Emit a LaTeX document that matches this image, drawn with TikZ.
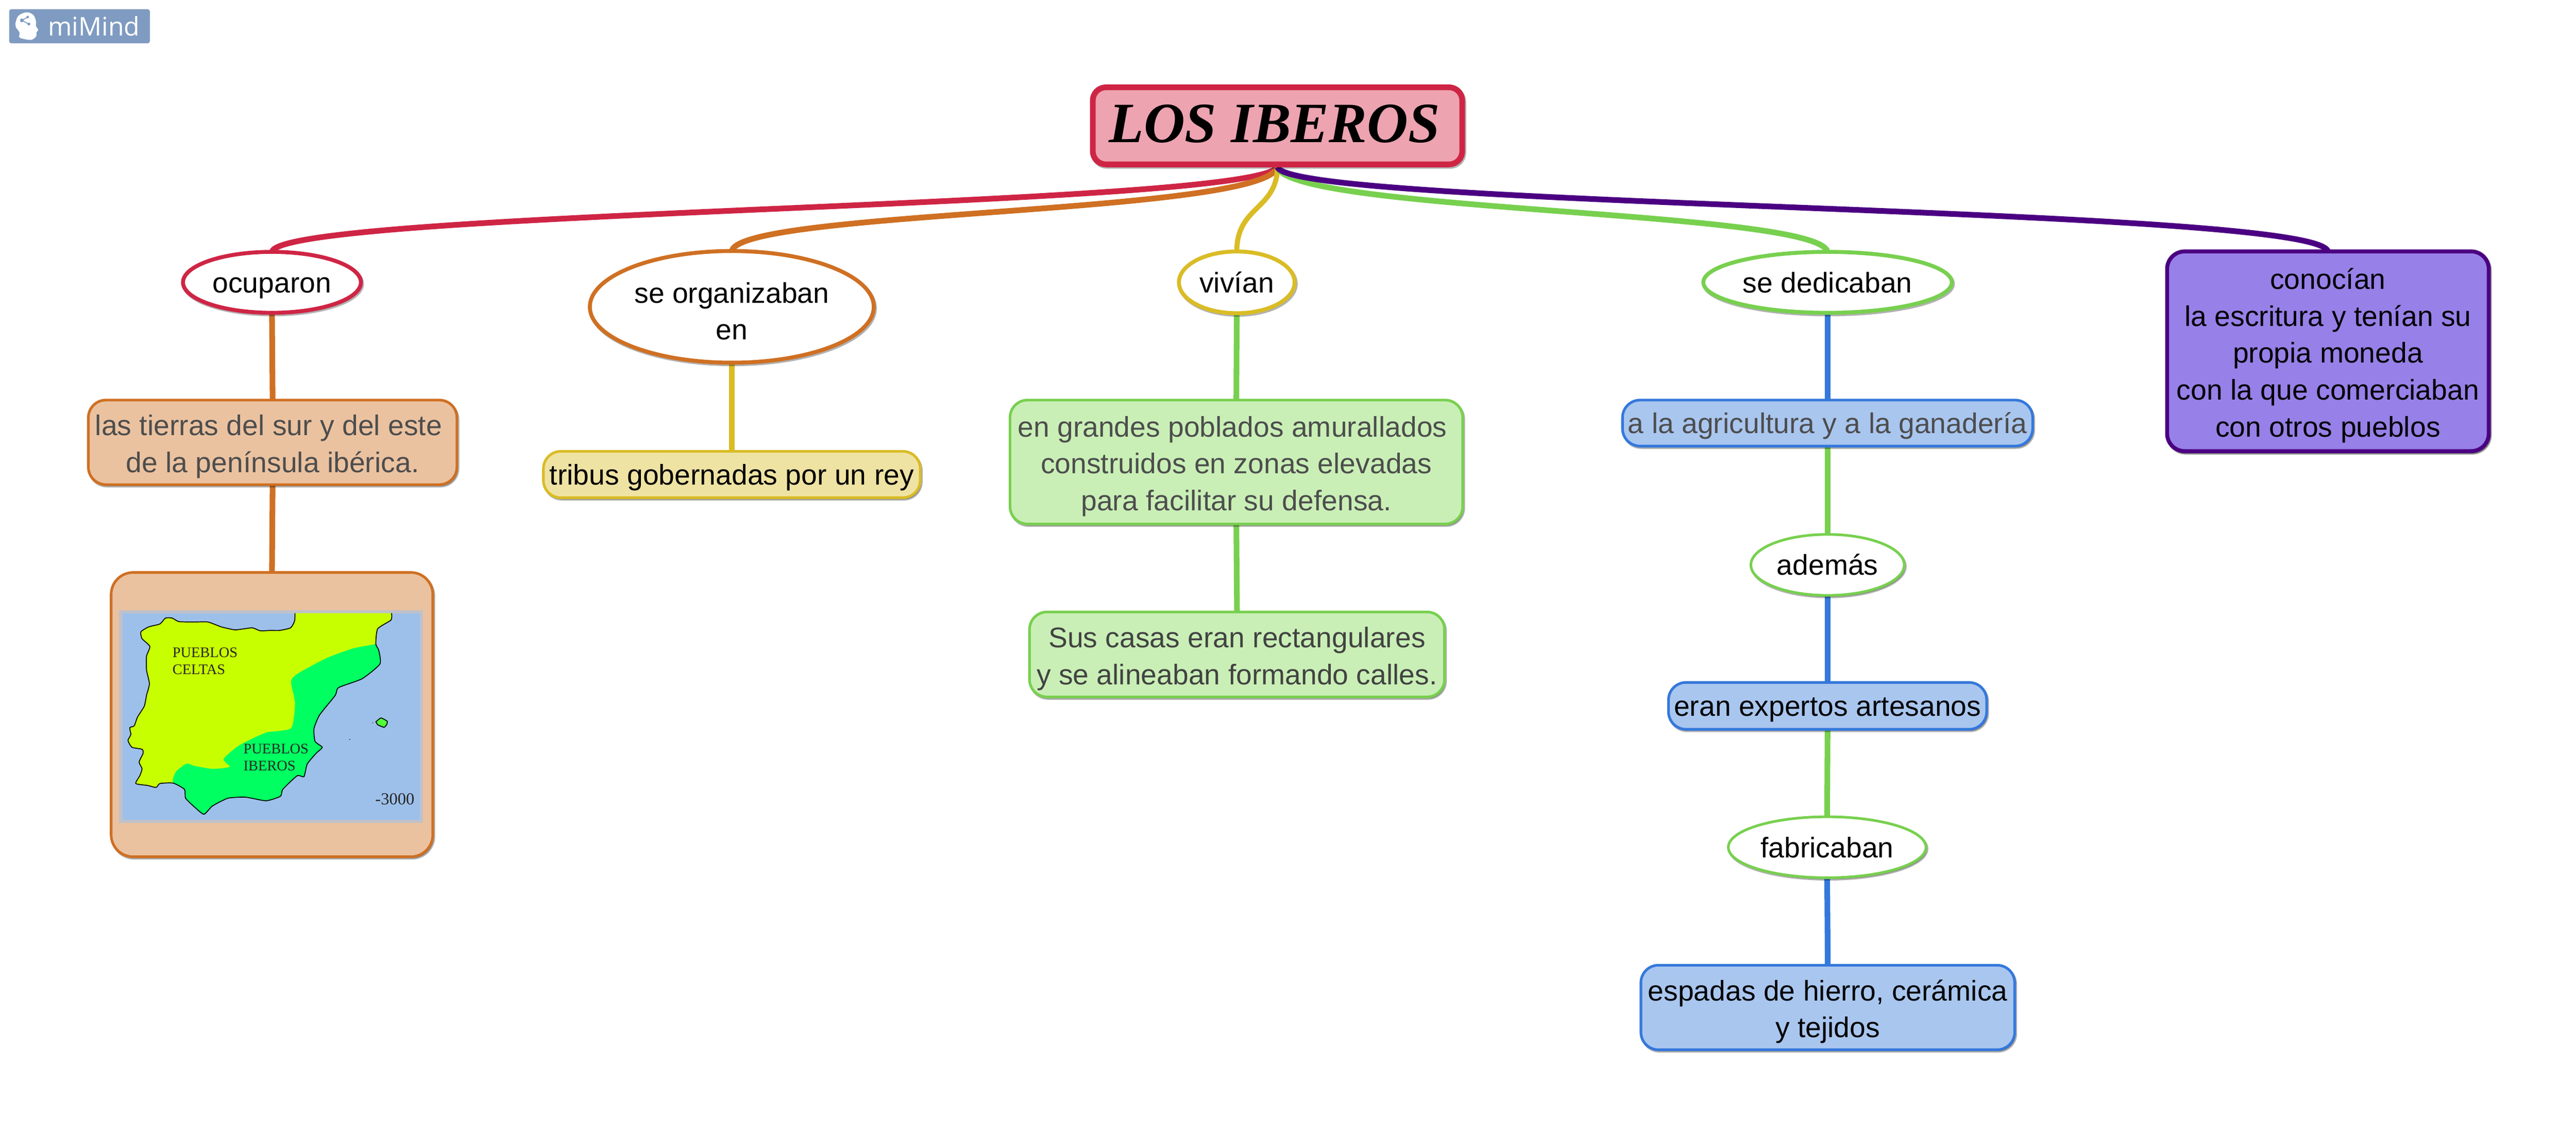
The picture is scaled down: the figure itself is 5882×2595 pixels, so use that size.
\documentclass[tikz,border=0pt]{standalone}
\usepackage{fontspec}
\setmainfont{Liberation Sans}
\newfontfamily\mapfont{Liberation Serif}
\newfontfamily\logofont{Open Sans}
\usetikzlibrary{shapes.geometric,shadows,backgrounds}
\definecolor{cred}{HTML}{CF2545}
\definecolor{cpink}{HTML}{EDA3B0}
\definecolor{corange}{HTML}{CF7023}
\definecolor{fillorange}{HTML}{EBC2A0}
\definecolor{cyellow}{HTML}{DABC25}
\definecolor{fillyellow}{HTML}{EFE3A3}
\definecolor{cgreen}{HTML}{78D04F}
\definecolor{fillgreen}{HTML}{C9EFB6}
\definecolor{cblue}{HTML}{3478DB}
\definecolor{fillblue}{HTML}{A9C6EF}
\definecolor{cpurple}{HTML}{4B0082}
\definecolor{fillpurple}{HTML}{9780E8}
\definecolor{greytext}{HTML}{4D4D4D}
\definecolor{logoblue}{HTML}{7F9BC1}
\definecolor{seablue}{HTML}{9DC0EA}
\definecolor{landyellow}{HTML}{C8FF00}
\definecolor{landgreen}{HTML}{00FF60}
\newcommand{\tsp}{\hspace*{.278em}}
\newcommand{\ft}{\rule{0pt}{19pt}}
\tikzset{
  softshadow/.style={drop shadow={shadow xshift=.025cm,shadow yshift=-.035cm,opacity=.3,draw=black,fill=black,line width=#1}},
  txt/.style={font=\fontsize{18.5}{24}\selectfont,align=center,inner sep=0pt,outer sep=0pt},
  oneline/.style={execute at begin node={\rule[-7.4pt]{0pt}{28pt}},execute at end node={\rule[-7.4pt]{0pt}{24pt}}},
  oval/.style={ellipse,txt,draw=#1,fill=white,line width=.09cm,softshadow=.09cm},
  thinoval/.style={ellipse,txt,draw=#1,fill=white,line width=.06cm,softshadow=.06cm},
  boxn/.style 2 args={rectangle,txt,rounded corners=.4cm,draw=#1,fill=#2,line width=.06cm,softshadow=.06cm},
  link/.style={line width=.13cm,draw=#1},
  sized/.style n args={4}{minimum width=#1cm,minimum height=#2cm,at={(#3,#4)}},
  maplabel/.style={font=\mapfont\fontsize{9.5}{11}\selectfont,align=left,anchor=base west,inner sep=0pt,text=black!85}
}
\begin{document}
\begin{tikzpicture}[x=.01cm,y=-.01cm]
\useasboundingbox (0,0) rectangle (5882,2595);

% logo
\node[rectangle,rounded corners=.05cm,fill=logoblue,minimum width=3.21cm,minimum height=.78cm,inner sep=0pt] (logo) at (181.5,60) {};
\node[inner sep=0pt,anchor=base west,text=white,font=\logofont\fontsize{16.7}{18}\selectfont] (logotext) at (109,81.5) {miMind};
\begin{scope}[x=.00333cm,y=-.00333cm]
  \fill[white] plot[smooth,tension=.6] coordinates {(105,165) (125,110) (180,85) (228,102) (248,150) (246,178) (262,205) (250,222) (250,245) (235,263) (205,274) (135,258) (135,225) (110,190)} -- cycle;
  \draw[logoblue,line width=.02cm] (190,117) -- (150,140) -- (198,165);
  \fill[logoblue] (150,140) circle[radius=13] (190,117) circle[radius=9] (198,165) circle[radius=10];
\end{scope}

% root
\node[rectangle,rounded corners=.3cm,draw=cred,fill=cpink,line width=.13cm,minimum width=8.43cm,minimum height=1.76cm,inner sep=0pt,softshadow=.13cm] (root) at (2917,287.5) {};
\node[inner sep=0pt,font=\mapfont\bfseries\itshape\fontsize{37}{40}\selectfont] (roottext) at (2910,283) {LOS IBEROS};

% first level
\node[oval=cred,oneline,sized={4.06}{1.38}{621}{645}] (oc) {ocuparon};
\node[oval=corange,sized={6.48}{2.55}{1671}{701}] (org) {\ft se organizaban\\en};
\node[oval=cyellow,oneline,sized={2.64}{1.41}{2824}{645}] (viv) {vivían};
\node[oval=cgreen,oneline,sized={5.67}{1.39}{4173}{645}] (ded) {se dedicaban};
\node[boxn={cpurple}{fillpurple},line width=.09cm,softshadow=.09cm,sized={7.34}{4.56}{5315.5}{802.5}] (con) {\ft conocían\\la escritura y tenían su\\propia moneda\\con la que comerciaban\\con otros pueblos};

% orange column
\node[boxn={corange}{fillorange},text=greytext,sized={8.41}{1.93}{622.5}{1010.5}] (tierras) {\ft las tierras del sur y del este\tsp\\de la península ibérica.};
\node[boxn={corange}{fillorange},rounded corners=.5cm,sized={7.34}{6.49}{621}{1632.5}] (mapbox) {};

% yellow column
\node[boxn={cyellow}{fillyellow},oneline,sized={8.60}{1.06}{1671}{1084}] (tribus) {tribus gobernadas por un rey};

% green column
\node[boxn={cgreen}{fillgreen},text=greytext,sized={10.33}{2.83}{2823}{1055.5}] (pob) {\ft en grandes poblados amurallados\tsp\\construidos en zonas elevadas\tsp\\para facilitar su defensa.};
\node[boxn={cgreen}{fillgreen},text=greytext!85!black,sized={9.47}{1.94}{2824.5}{1495}] (casas) {\ft Sus casas eran rectangulares\\y se alineaban formando calles.};

% blue column
\node[boxn={cblue}{fillblue},oneline,text=greytext,sized={9.36}{1.05}{4173}{966.5}] (agri) {a la agricultura y a la ganadería};
\node[thinoval=cgreen,oneline,sized={3.50}{1.37}{4173}{1290.5}] (ade) {además};
\node[boxn={cblue}{fillblue},oneline,sized={7.26}{1.07}{4173}{1612.5}] (art) {eran expertos artesanos};
\node[thinoval=cgreen,oneline,sized={4.51}{1.37}{4172}{1935.5}] (fab) {fabricaban};
\node[boxn={cblue}{fillblue},sized={8.53}{1.93}{4173.5}{2301.5}] (esp) {\ft espadas de hierro, cerámica\\y tejidos};

% map image
\begin{scope}[shift={(230,1280)},x=.005102cm,y=-.004464cm]
  \fill[seablue!55!fillorange] (82,255) rectangle (1443,1340);
  \fill[seablue] (97,270) rectangle (1428,1325);
  \fill[landyellow] plot[smooth,tension=.35] coordinates {(870,270) (868,310) (850,345) (800,358) (760,358) (715,360) (680,345) (640,350) (600,355) (540,340) (480,315) (420,315) (350,313) (320,295) (290,295) (265,325) (215,340) (180,365) (185,400) (220,440) (205,490) (205,560) (218,630) (205,690) (195,745) (165,800) (150,845) (130,855) (135,890) (122,920) (140,955) (185,965) (190,985) (172,1030) (185,1065) (175,1100) (157,1140) (210,1150) (248,1160) (265,1140) (325,1138) (430,1130) (650,1100) (900,930) (920,700) (980,570) (1180,480) (1232,428) (1240,350) (1300,305) (1302,270)} -- cycle;
  \fill[landgreen] plot[smooth,tension=.35] coordinates {(1232,428) (1130,450) (1010,500) (880,580) (852,620) (870,730) (852,858) (740,880) (620,945) (550,1015) (578,1055) (500,1065) (420,1050) (385,1038) (340,1075) (325,1110) (325,1138) (375,1170) (380,1215) (420,1260) (462,1297) (500,1255) (570,1215) (650,1210) (740,1228) (805,1205) (815,1170) (880,1100) (910,1105) (925,1040) (965,985) (992,955) (960,925) (955,860) (980,790) (1050,690) (1065,650) (1170,605) (1250,530) (1245,460)} -- cycle;
  \draw[black,line width=.02cm] plot[smooth,tension=.35] coordinates {(870,270) (868,310) (850,345) (800,358) (760,358) (715,360) (680,345) (640,350) (600,355) (540,340) (480,315) (420,315) (350,313) (320,295) (290,295) (265,325) (215,340) (180,365) (185,400) (220,440) (205,490) (205,560) (218,630) (205,690) (195,745) (165,800) (150,845) (130,855) (135,890) (122,920) (140,955) (185,965) (190,985) (172,1030) (185,1065) (175,1100) (157,1140) (210,1150) (248,1160) (265,1140) (325,1138) (375,1170) (380,1215) (420,1260) (462,1297) (500,1255) (570,1215) (650,1210) (740,1228) (805,1205) (815,1170) (880,1100) (910,1105) (925,1040) (965,985) (992,955) (960,925) (955,860) (980,790) (1050,690) (1065,650) (1170,605) (1250,530) (1245,460) (1232,428) (1240,350) (1300,305) (1302,270)};
  \draw[black,line width=.02cm,fill=landgreen!60!landyellow] plot[smooth,tension=.3] coordinates {(1232,825) (1255,805) (1283,822) (1280,840) (1268,853) (1240,840)} -- cycle;
  \fill[black] (1115,915) circle[radius=2.5] (1218,830) circle[radius=2];
  \node[maplabel] (celtas) at (320,582) {PUEBLOS\\CELTAS};
  \node[maplabel] (iberos) at (638,1075) {PUEBLOS\\IBEROS};
  \node[maplabel,font=\mapfont\fontsize{10.9}{12}\selectfont] (year) at (1228,1247) {-3000};
\end{scope}

% connectors
\begin{pgfonlayer}{background}
  \coordinate (hub) at (root.south);
  \draw[link=cred] (oc.north) .. controls (640,480) and (2850,475) .. (hub);
  \draw[link=corange] (org.north) .. controls (1690,480) and (2880,490) .. (hub);
  \draw[link=cyellow,line width=.115cm] (viv.north) .. controls (2824,470) and (2915,480) .. (hub);
  \draw[link=cgreen] (ded.north) .. controls (4150,480) and (2950,485) .. (hub);
  \draw[link=cpurple] (con.north) .. controls (5290,472) and (2950,475) .. (hub);

  \draw[link=corange] (oc.south) -- (tierras.north);
  \draw[link=corange] (tierras.south) -- (mapbox.north);
  \draw[link=cyellow] (org.south) -- (tribus.north);
  \draw[link=cgreen] (viv.south) -- (pob.north);
  \draw[link=cgreen] (pob.south) -- (casas.north);
  \draw[link=cblue] (ded.south) -- (agri.north);
  \draw[link=cgreen] (agri.south) -- (ade.north);
  \draw[link=cblue] (ade.south) -- (art.north);
  \draw[link=cgreen] (art.south) -- (fab.north);
  \draw[link=cblue] (fab.south) -- (esp.north);
\end{pgfonlayer}
\end{tikzpicture}
\end{document}
